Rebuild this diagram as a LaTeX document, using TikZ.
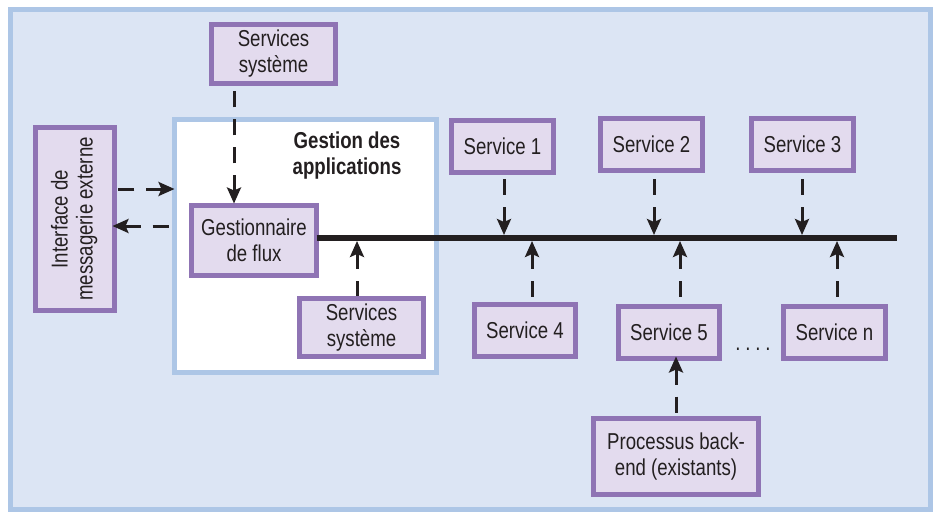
\documentclass[tikz,border=0pt]{standalone}
\usepackage{fontspec}
\setmainfont{Liberation Sans}[FakeStretch=0.81]
\usetikzlibrary{arrows.meta}
\definecolor{framefill}{HTML}{DCE5F4}
\definecolor{frameline}{HTML}{ADC6E6}
\definecolor{boxline}{HTML}{8F74B4}
\definecolor{boxfill}{HTML}{E3DBEE}
\definecolor{ink}{HTML}{231F20}
\begin{document}
\begin{tikzpicture}[x=1pt,y=-1pt,
  box/.style={draw=boxline, fill=boxfill, line width=5pt, inner sep=0pt, outer sep=0pt,
    align=center, text=ink, font=\fontsize{23}{26}\selectfont},
  % drawn from the tip back to the source, so the dashes start at the head
  flow/.style={ink, line width=3pt, dash pattern=on 16pt off 12pt,
    {Stealth[length=16pt,width=14pt,inset=3pt]}-, shorten >=3pt},
  bus/.style={ink, line width=5.5pt}]
\useasboundingbox (0,0) rectangle (941,511);
% outer frame
\draw[frameline, fill=framefill, line width=5pt] (10.5,10) rectangle (930,509.5);
% application management area
\node[draw=frameline, fill=white, line width=5pt, minimum width=262pt, minimum height=253pt,
  inner sep=0pt, outer sep=0pt] (app) at (305.5,246) {};
\node[text=ink, font=\fontsize{23}{26}\selectfont\bfseries, align=center] (apptitle)
  at (347,155.5) {Gestion des\\applications};
% boxes
\node[box, minimum width=124pt, minimum height=59pt] (sys1) at (273.5,54) {Services\\système};
\node[box, minimum width=79pt, minimum height=183pt] (iface) at (75,219)
  {\rotatebox{90}{\begin{tabular}{@{}c@{}}Interface de\\[-1pt]messagerie externe\end{tabular}}};
\node[box, minimum width=125pt, minimum height=70pt] (gest) at (254,240.5) {Gestionnaire\\de flux};
\node[box, minimum width=124pt, minimum height=58pt] (sys2) at (361.5,327.5) {Services\\système};
\node[box, minimum width=102pt, minimum height=52pt] (s1) at (502.5,146.5) {Service 1};
\node[box, minimum width=102pt, minimum height=52pt] (s2) at (651.5,144.5) {Service 2};
\node[box, minimum width=102pt, minimum height=52pt] (s3) at (802.5,144.5) {Service 3};
\node[box, minimum width=101pt, minimum height=52pt] (s4) at (525,330.5) {Service 4};
\node[box, minimum width=101pt, minimum height=52pt] (s5) at (669,332.5) {Service 5};
\node[box, minimum width=102pt, minimum height=52pt] (sn) at (834.5,332.5) {Service n};
\node[box, minimum width=165pt, minimum height=76pt] (proc) at (676,456.5) {Processus back-\\end (existants)};
\node[text=ink, font=\fontsize{23}{26}\selectfont, inner sep=0pt, anchor=base] (dots) at (753,350)
  {.\hspace{4.8pt}.\hspace{4.8pt}.\hspace{4.8pt}.};
% message bus
\coordinate (busend) at (897,238);
\draw[bus] (gest.east |- busend) -- (busend);
% connectors (tip end first)
\draw[flow, shorten <=2pt] ([xshift=-39.5pt]sys1.south |- gest.north) -- ([xshift=-39.5pt]sys1.south);
\draw[flow] ([yshift=30pt]iface.east -| app.west) -- ([yshift=30pt]iface.east);
\draw[flow, shorten >=0pt, shorten <=-2pt] ([yshift=-7pt]iface.east) -- ([yshift=-7pt]iface.east -| app.west);
\draw[flow] ([xshift=1.5pt]s1.south |- 0,235) -- ([xshift=1.5pt]s1.south);
\draw[flow] ([xshift=2.5pt]s2.south |- 0,235) -- ([xshift=2.5pt]s2.south);
\draw[flow] ([xshift=-0.5pt]s3.south |- 0,235) -- ([xshift=-0.5pt]s3.south);
\draw[flow] ([xshift=7pt]s4.north |- 0,241) -- ([xshift=7pt]s4.north);
\draw[flow] ([xshift=11pt]s5.north |- 0,241) -- ([xshift=11pt]s5.north);
\draw[flow] ([xshift=2.5pt]sn.north |- 0,241) -- ([xshift=2.5pt]sn.north);
\draw[flow] ([xshift=-4.5pt]sys2.north |- 0,241) -- ([xshift=-4.5pt]sys2.north);
\draw[flow, shorten <=-2pt] (proc.north |- s5.south) -- (proc.north);
\end{tikzpicture}
\end{document}
